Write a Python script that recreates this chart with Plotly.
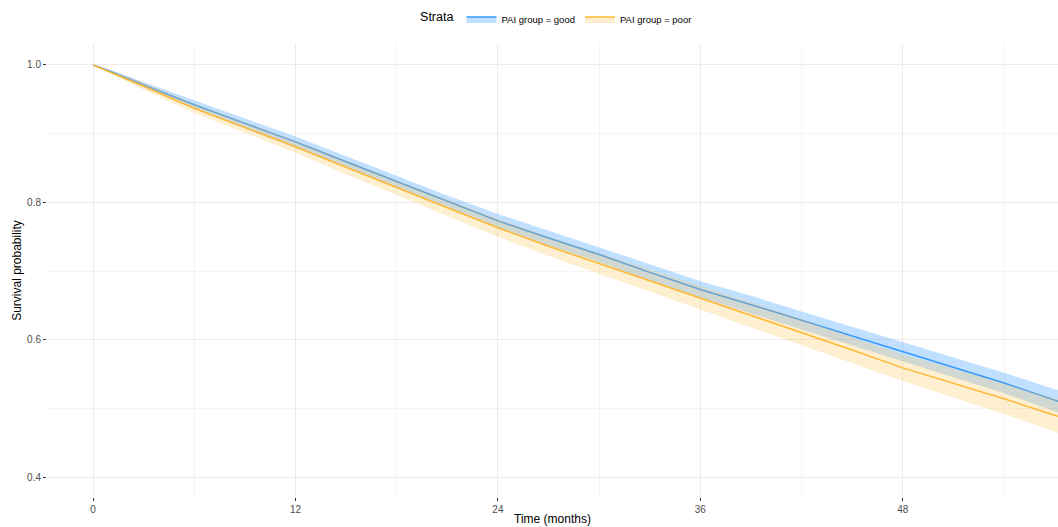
import plotly.graph_objects as go

time_months = [0, 1, 3, 6, 9, 12, 15, 18, 21, 24, 27, 30, 33, 36, 39, 42, 45, 48, 51, 54, 57, 60]

good_surv = [1.000, 0.991, 0.971, 0.942, 0.915, 0.888, 0.859, 0.830, 0.801, 0.773, 0.748,
             0.724, 0.698, 0.673, 0.651, 0.628, 0.605, 0.583, 0.560, 0.537, 0.512, 0.490]
good_lower = [1.000, 0.989, 0.967, 0.936, 0.908, 0.880, 0.851, 0.821, 0.792, 0.763, 0.737,
              0.713, 0.686, 0.661, 0.638, 0.615, 0.591, 0.569, 0.545, 0.522, 0.496, 0.473]
good_upper = [1.000, 0.993, 0.975, 0.948, 0.922, 0.896, 0.867, 0.839, 0.810, 0.783, 0.759,
              0.735, 0.710, 0.685, 0.664, 0.641, 0.619, 0.597, 0.575, 0.552, 0.528, 0.507]

poor_surv = [1.000, 0.990, 0.969, 0.937, 0.909, 0.881, 0.851, 0.821, 0.792, 0.763, 0.736,
             0.711, 0.686, 0.661, 0.636, 0.611, 0.585, 0.559, 0.537, 0.514, 0.490, 0.468]
poor_lower = [1.000, 0.988, 0.964, 0.930, 0.901, 0.872, 0.841, 0.810, 0.780, 0.750, 0.722,
              0.696, 0.670, 0.644, 0.618, 0.592, 0.566, 0.540, 0.516, 0.492, 0.466, 0.443]
poor_upper = [1.000, 0.992, 0.974, 0.944, 0.917, 0.890, 0.861, 0.832, 0.804, 0.776, 0.750,
              0.726, 0.702, 0.678, 0.654, 0.630, 0.604, 0.578, 0.558, 0.536, 0.514, 0.493]

strata = ["PAI group = good", "PAI group = poor"]
line_colors = ["#3399FF", "#FFB833"]
band_colors = ["rgba(51,153,255,0.30)", "rgba(255,191,71,0.25)"]

x_ticks = [0, 12, 24, 36, 48]
y_ticks = [0.4, 0.6, 0.8, 1.0]

fig = go.Figure()

series = [(good_surv, good_lower, good_upper), (poor_surv, poor_lower, poor_upper)]
for i, (s, lo, up) in enumerate(series):
    fig.add_trace(go.Scatter(x=time_months, y=lo, mode="lines", line=dict(width=0, color=line_colors[i]),
                             showlegend=False, hoverinfo="skip"))
    fig.add_trace(go.Scatter(x=time_months, y=s, mode="lines", name=strata[i],
                             line=dict(width=1.5, color=line_colors[i]),
                             fill="tonexty", fillcolor=band_colors[i]))
    fig.add_trace(go.Scatter(x=time_months, y=up, mode="lines", line=dict(width=0, color=line_colors[i]),
                             fill="tonexty", fillcolor=band_colors[i],
                             showlegend=False, hoverinfo="skip"))

fig.update_layout(
    width=1058, height=527,
    margin=dict(l=47, r=0, t=44, b=30, autoexpand=False),
    paper_bgcolor="white", plot_bgcolor="white",
    font=dict(family="Liberation Sans, Arial, sans-serif", color="#000000"),
    legend=dict(
        orientation="h", x=0.505, xanchor="center", xref="paper",
        y=1 - 19 / 527, yanchor="middle", yref="container",
        traceorder="normal",
        title=dict(text="Strata", font=dict(size=12.5, color="#000000"), side="left"),
        font=dict(size=9.5, color="#000000"),
        itemwidth=30, tracegroupgap=0,
    ),
    xaxis=dict(
        range=[-2.73, 57.2], tickvals=x_ticks, ticktext=[str(v) for v in x_ticks],
        automargin=False,
        showgrid=True, gridcolor="#EBEBEB", gridwidth=1,
        minor=dict(dtick=6, tick0=0, showgrid=True, gridcolor="#F4F4F4", gridwidth=1),
        zeroline=False, showline=False,
        ticks="outside", ticklen=3, tickcolor="#333333", tickwidth=1,
        tickfont=dict(size=10, color="#4D4D4D"),
        title=dict(text="Time (months)", font=dict(size=12, color="#000000"), standoff=0),
    ),
    yaxis=dict(
        range=[0.371, 1.0305], tickvals=y_ticks, ticktext=["0.4", "0.6", "0.8", "1.0"],
        automargin=False,
        showgrid=True, gridcolor="#EBEBEB", gridwidth=1,
        minor=dict(dtick=0.1, tick0=0.5, showgrid=True, gridcolor="#F4F4F4", gridwidth=1),
        zeroline=False, showline=False,
        ticks="outside", ticklen=3, tickcolor="#333333", tickwidth=1,
        tickfont=dict(size=10, color="#4D4D4D"),
        title=dict(text="Survival probability", font=dict(size=12, color="#000000"), standoff=2),
    ),
)

fig.write_html("out.html", config={"displayModeBar": False},
               post_script="document.body.style.margin='0';document.body.style.overflow='hidden';")
